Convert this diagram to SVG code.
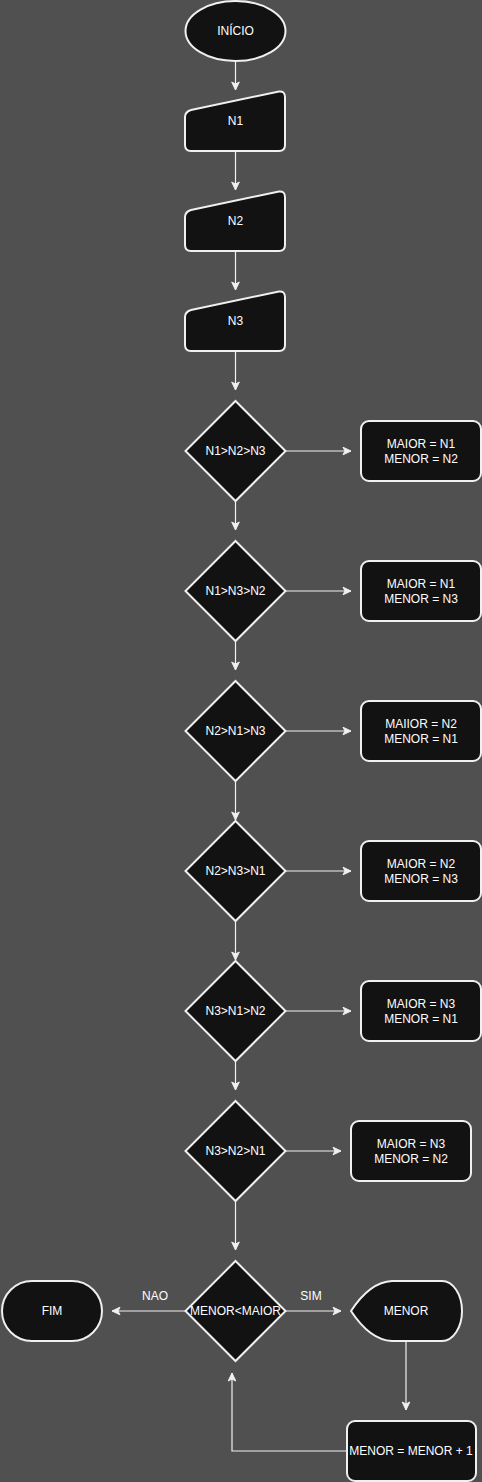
<svg xmlns="http://www.w3.org/2000/svg" width="482" height="1482" viewBox="0 0 482 1482">
<style>
.n{fill:#121212;stroke:#f0f0f0;stroke-width:2}
.t{fill:#ffffff;font-family:"Liberation Sans",Arial,sans-serif;font-size:12px;text-anchor:middle;dominant-baseline:central}
.c{fill:none;stroke:#f0f0f0;stroke-width:1.2}
</style>
<defs>
<marker id="a" markerUnits="userSpaceOnUse" markerWidth="10" markerHeight="10" refX="9" refY="5" orient="auto">
<path d="M1,1.2 L9,5 L1,8.8 L3,5 Z" fill="#f0f0f0" stroke="#f0f0f0" stroke-width="1"/>
</marker>
</defs>
<rect width="482" height="1482" fill="#505050"/>
<g id="connectors">
<line class="c" x1="235.5" y1="61" x2="235.5" y2="90" marker-end="url(#a)"/>
<line class="c" x1="235.5" y1="151" x2="235.5" y2="190" marker-end="url(#a)"/>
<line class="c" x1="235.5" y1="251" x2="235.5" y2="290" marker-end="url(#a)"/>
<line class="c" x1="235.5" y1="351" x2="235.5" y2="390" marker-end="url(#a)"/>
<line class="c" x1="235.5" y1="501" x2="235.5" y2="530" marker-end="url(#a)"/>
<line class="c" x1="235.5" y1="641" x2="235.5" y2="670" marker-end="url(#a)"/>
<line class="c" x1="235.5" y1="781" x2="235.5" y2="820" marker-end="url(#a)"/>
<line class="c" x1="235.5" y1="921" x2="235.5" y2="960" marker-end="url(#a)"/>
<line class="c" x1="235.5" y1="1061" x2="235.5" y2="1090" marker-end="url(#a)"/>
<line class="c" x1="235.5" y1="1201" x2="235.5" y2="1250" marker-end="url(#a)"/>
<line class="c" x1="286" y1="451" x2="351" y2="451" marker-end="url(#a)"/>
<line class="c" x1="286" y1="591" x2="351" y2="591" marker-end="url(#a)"/>
<line class="c" x1="286" y1="731" x2="351" y2="731" marker-end="url(#a)"/>
<line class="c" x1="286" y1="871" x2="351" y2="871" marker-end="url(#a)"/>
<line class="c" x1="286" y1="1011" x2="351" y2="1011" marker-end="url(#a)"/>
<line class="c" x1="286" y1="1151" x2="341" y2="1151" marker-end="url(#a)"/>
<line class="c" x1="186" y1="1311" x2="112" y2="1311" marker-end="url(#a)"/>
<line class="c" x1="286" y1="1311" x2="341" y2="1311" marker-end="url(#a)"/>
<line class="c" x1="406" y1="1342" x2="406" y2="1410" marker-end="url(#a)"/>
<polyline class="c" points="347,1451 232,1451 232,1373" marker-end="url(#a)"/>
<text class="t" x="155" y="1296">NAO</text>
<text class="t" x="311" y="1296">SIM</text>
</g>
<g id="inicio"><ellipse class="n" cx="235.5" cy="31" rx="50" ry="30"/><text class="t" x="235.5" y="31">INÍCIO</text></g>
<g id="n1"><path class="n" d="M191,110 L279,91.5 Q285,91 285,97 L285,145 Q285,151 279,151 L191,151 Q185,151 185,145 L185,117 Q185,112 191,110 Z"/><text class="t" x="235.5" y="121">N1</text></g>
<g id="n2"><path class="n" d="M191,210 L279,191.5 Q285,191 285,197 L285,245 Q285,251 279,251 L191,251 Q185,251 185,245 L185,217 Q185,212 191,210 Z"/><text class="t" x="235.5" y="221">N2</text></g>
<g id="n3"><path class="n" d="M191,310 L279,291.5 Q285,291 285,297 L285,345 Q285,351 279,351 L191,351 Q185,351 185,345 L185,317 Q185,312 191,310 Z"/><text class="t" x="235.5" y="321">N3</text></g>
<g id="d1"><path class="n" d="M235.5,401 L285.5,451 L235.5,501 L185.5,451 Z"/><text class="t" x="235.5" y="451">N1&gt;N2&gt;N3</text></g>
<g id="b1"><rect class="n" x="361" y="421" width="120" height="60" rx="8"/><text class="t" x="421" y="443.5">MAIOR = N1</text><text class="t" x="421" y="458.5">MENOR = N2</text></g>
<g id="d2"><path class="n" d="M235.5,541 L285.5,591 L235.5,641 L185.5,591 Z"/><text class="t" x="235.5" y="591">N1&gt;N3&gt;N2</text></g>
<g id="b2"><rect class="n" x="361" y="561" width="120" height="60" rx="8"/><text class="t" x="421" y="583.5">MAIOR = N1</text><text class="t" x="421" y="598.5">MENOR = N3</text></g>
<g id="d3"><path class="n" d="M235.5,681 L285.5,731 L235.5,781 L185.5,731 Z"/><text class="t" x="235.5" y="731">N2&gt;N1&gt;N3</text></g>
<g id="b3"><rect class="n" x="361" y="701" width="120" height="60" rx="8"/><text class="t" x="421" y="723.5">MAIIOR = N2</text><text class="t" x="421" y="738.5">MENOR = N1</text></g>
<g id="d4"><path class="n" d="M235.5,821 L285.5,871 L235.5,921 L185.5,871 Z"/><text class="t" x="235.5" y="871">N2&gt;N3&gt;N1</text></g>
<g id="b4"><rect class="n" x="361" y="841" width="120" height="60" rx="8"/><text class="t" x="421" y="863.5">MAIOR = N2</text><text class="t" x="421" y="878.5">MENOR = N3</text></g>
<g id="d5"><path class="n" d="M235.5,961 L285.5,1011 L235.5,1061 L185.5,1011 Z"/><text class="t" x="235.5" y="1011">N3&gt;N1&gt;N2</text></g>
<g id="b5"><rect class="n" x="361" y="981" width="120" height="60" rx="8"/><text class="t" x="421" y="1003.5">MAIOR = N3</text><text class="t" x="421" y="1018.5">MENOR = N1</text></g>
<g id="d6"><path class="n" d="M235.5,1101 L285.5,1151 L235.5,1201 L185.5,1151 Z"/><text class="t" x="235.5" y="1151">N3&gt;N2&gt;N1</text></g>
<g id="b6"><rect class="n" x="351" y="1121" width="120" height="60" rx="8"/><text class="t" x="411" y="1143.5">MAIOR = N3</text><text class="t" x="411" y="1158.5">MENOR = N2</text></g>
<g id="d7"><path class="n" d="M235.5,1261 L285.5,1311 L235.5,1361 L185.5,1311 Z"/><text class="t" x="235.5" y="1311">MENOR&lt;MAIOR</text></g>
<g id="fim"><rect class="n" x="2" y="1281" width="100" height="60" rx="30"/><text class="t" x="52" y="1311">FIM</text></g>
<g id="menor"><path class="n" d="M351,1311 Q370,1282 392,1281 L442,1281 A20,30 0 0 1 442,1341 L392,1341 Q370,1340 351,1311 Z"/><text class="t" x="406" y="1311">MENOR</text></g>
<g id="inc"><rect class="n" x="347" y="1421" width="129" height="60" rx="8"/><text class="t" x="411" y="1451">MENOR = MENOR + 1</text></g>
</svg>
